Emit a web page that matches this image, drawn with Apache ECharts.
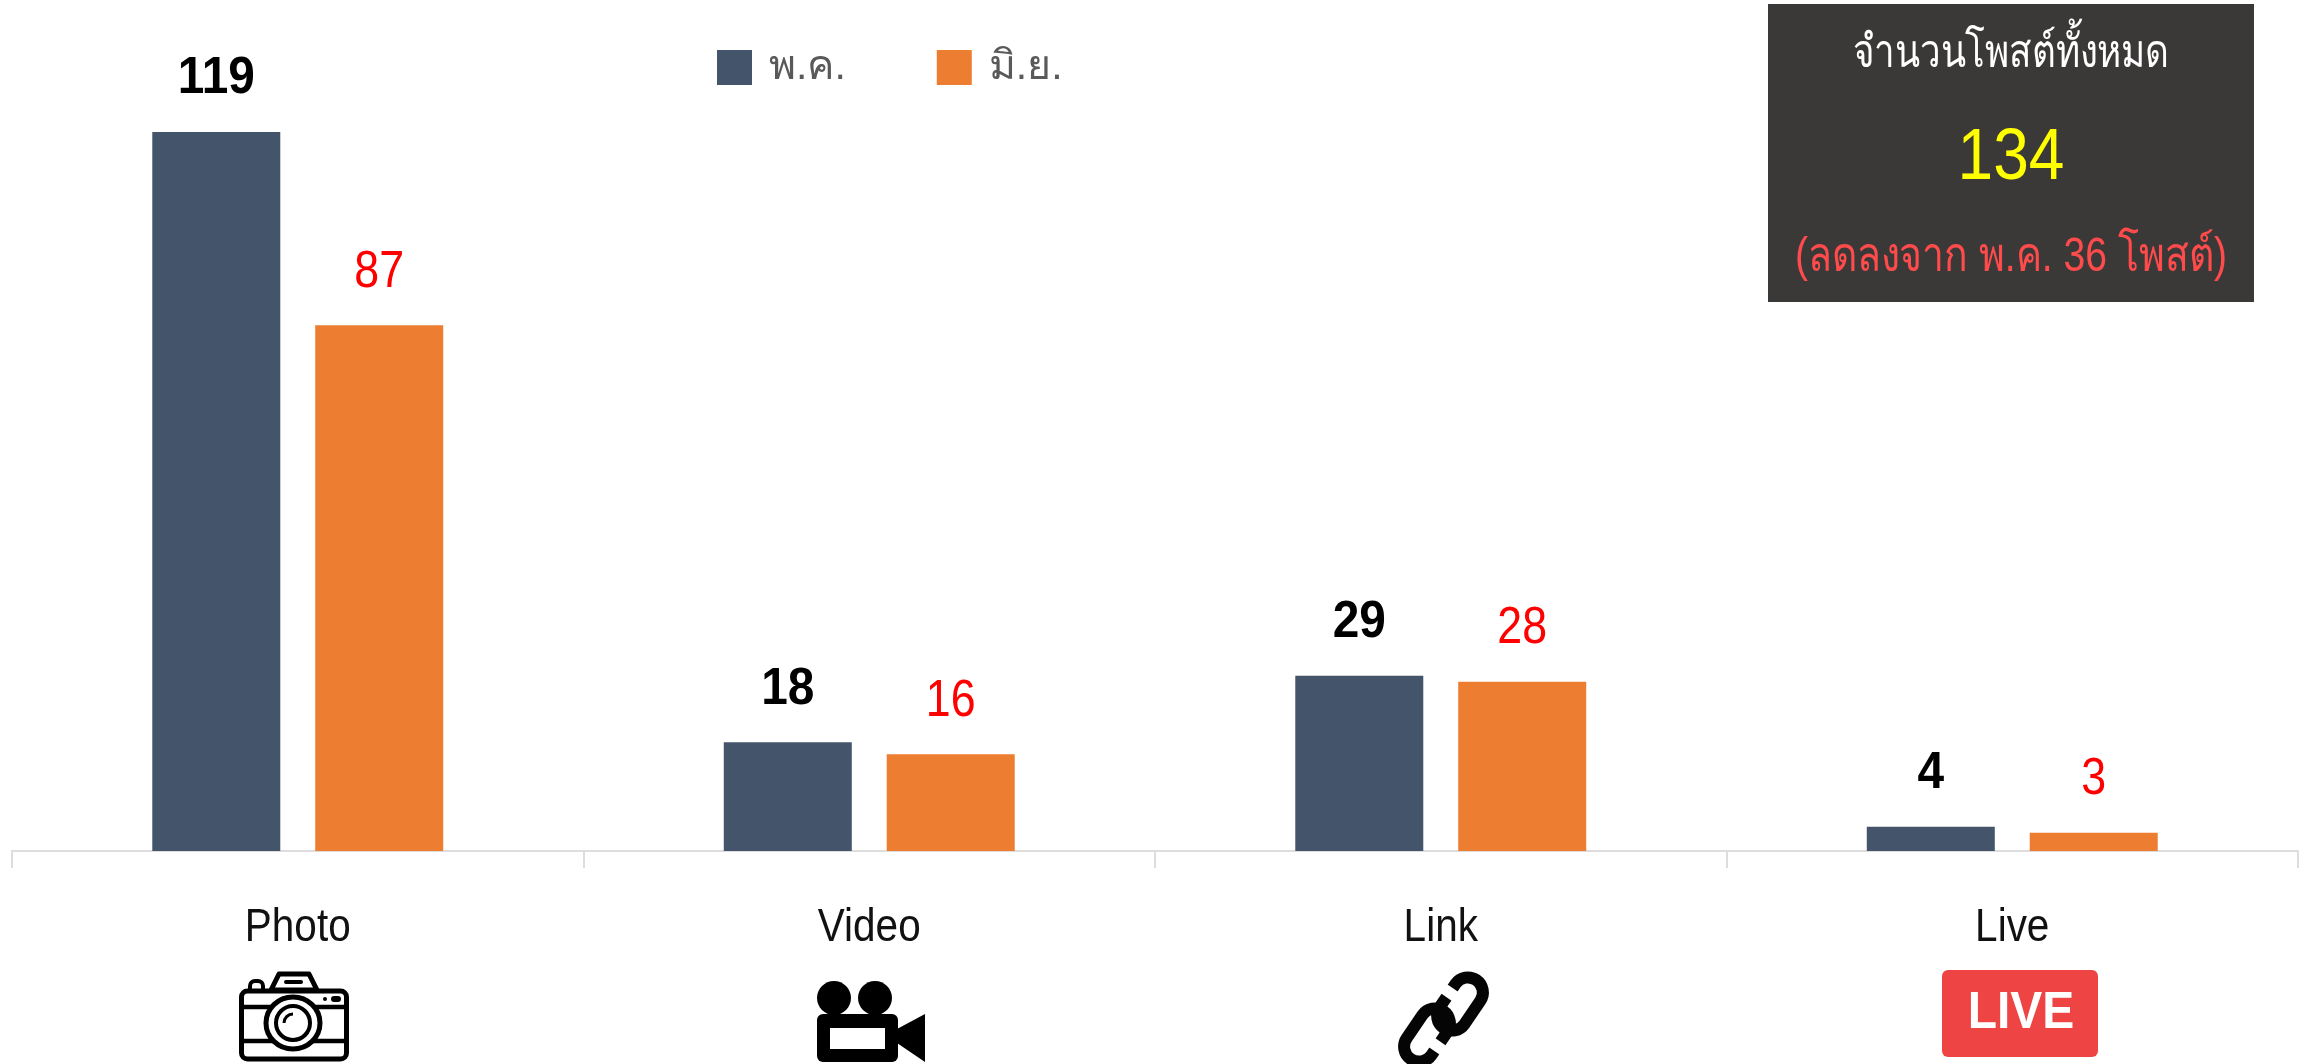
<!DOCTYPE html>
<html>
<head>
<meta charset="utf-8">
<style>html,body{margin:0;padding:0;background:#fff}#c{width:2310px;height:1064px}</style>
<script src="https://cdn.jsdelivr.net/npm/echarts@6/dist/echarts.min.js"></script>
</head>
<body>
<div id="c"></div>
<script>
const categories = ['Photo', 'Video', 'Link', 'Live'];
const seriesMay = [119, 18, 29, 4];
const seriesJun = [87, 16, 28, 3];
const legendNames = ['พ.ค.', 'มิ.ย.'];
const panelTitle = 'จำนวนโพสต์ทั้งหมด';
const panelTotal = '134';
const panelNote = '(ลดลงจาก พ.ค. 36 โพสต์)';

const FONT = '"Liberation Sans","Noto Sans",sans-serif';
const BK = '#000';
const line = (x1, y1, x2, y2, w) => ({type:'line', shape:{x1,y1,x2,y2}, style:{stroke:BK, lineWidth:w, lineCap:'round'}});

const cameraIcon = {type:'group', x:239, y:972, silent:true, children:[
  {type:'polygon', shape:{points:[[32,18],[40,2],[70,2],[78,18]]}, style:{fill:'#fff', stroke:BK, lineWidth:5, lineJoin:'round'}},
  line(47,10,62,10,4),
  {type:'rect', shape:{x:11,y:9,width:13,height:10,r:[5,5,0,0]}, style:{fill:'#fff', stroke:BK, lineWidth:4}},
  {type:'rect', shape:{x:2.5,y:19,width:105,height:68,r:6}, style:{fill:'#fff', stroke:BK, lineWidth:5}},
  line(3,35,107,35,4.5), line(3,69,107,69,4.5),
  {type:'ellipse', shape:{cx:54,cy:51,rx:27,ry:26}, style:{fill:'#fff', stroke:BK, lineWidth:5}},
  {type:'ellipse', shape:{cx:54,cy:51,rx:17,ry:17}, style:{fill:'#fff', stroke:BK, lineWidth:4}},
  {type:'arc', shape:{cx:54,cy:51,r:9,startAngle:Math.PI,endAngle:Math.PI*1.5}, style:{stroke:BK, lineWidth:3, fill:null}},
  {type:'circle', shape:{cx:86,cy:27,r:2}, style:{fill:BK}},
  {type:'rect', shape:{x:92,y:24,width:10,height:6,r:3}, style:{fill:BK}}
]};

const videoIcon = {type:'group', x:817, y:981, silent:true, children:[
  {type:'ellipse', shape:{cx:17,cy:17,rx:17,ry:17}, style:{fill:BK}},
  {type:'ellipse', shape:{cx:58,cy:17,rx:17,ry:17}, style:{fill:BK}},
  {type:'rect', shape:{x:0,y:33,width:81,height:48,r:6}, style:{fill:BK}},
  {type:'rect', shape:{x:13,y:47,width:55,height:21}, style:{fill:'#fff'}},
  {type:'polygon', shape:{points:[[80,48],[108,33],[108,81],[80,62]]}, style:{fill:BK}}
]};

const chainLink = (cx, cy, flip) => ({type:'group', x:cx, y:cy, rotation:flip ? Math.PI - 0.6 : -0.6, children:[
  {type:'rect', shape:{x:-15,y:-29,width:30,height:58,r:15}, style:{fill:'none', stroke:'#050505', lineWidth:12}},
  {type:'rect', shape:{x:-24,y:-9,width:16,height:11}, style:{fill:'#fff'}}
]});
const linkIcon = {type:'group', x:1396, y:974, silent:true, children:[
  chainLink(64, 30, false),
  chainLink(31, 61, true)
]};

const liveIcon = {type:'group', x:1942, y:970, silent:true, children:[
  {type:'rect', shape:{x:0,y:0,width:156,height:87,r:6}, style:{fill:'#EF4444'}},
  {type:'text', x:79, y:44, scaleX:0.94, style:{text:'LIVE', fill:'#fff', font:'bold 51px "Liberation Sans",sans-serif', align:'center', verticalAlign:'middle'}}
]};

const panelText = (y, text, fill, size, sx) => ({type:'text', x:243, y, scaleX:sx,
  style:{text, fill, font:size+'px '+FONT, align:'center', verticalAlign:'middle'}});
const panel = {type:'group', x:1768, y:4, silent:true, children:[
  {type:'rect', shape:{x:0,y:0,width:486,height:298}, style:{fill:'#3B3938'}},
  panelText(50, panelTitle, '#fff', 46, 0.8),
  panelText(155, panelTotal, '#FFFF00', 72, 0.89),
  panelText(254, panelNote, '#FF4B4B', 48, 0.815)
]};

// condensed value labels, placed through the chart's own scales
const valueLabels = (values, side, color, weight, sx) => ({
  type:'custom', coordinateSystem:'cartesian2d', silent:true, z:5,
  data:values.map((v, i) => [i, v]),
  renderItem:(params, api) => {
    const p = api.coord([api.value(0), api.value(1)]);
    const band = api.size([1, 0])[0];
    return {type:'text', x:p[0] + side * band * 0.1426, y:p[1] - 53, scaleX:sx,
      style:{text:String(api.value(1)), fill:color, font:weight + ' 52px "Liberation Sans",sans-serif', align:'center', verticalAlign:'middle'}};
  }
});

// condensed category names under the axis
const categoryLabels = {
  type:'custom', coordinateSystem:'cartesian2d', silent:true, z:5, clip:false,
  data:categories.map((c, i) => [i, 0]),
  renderItem:(params, api) => {
    const i = api.value(0);
    const p = api.coord([i, 0]);
    return {type:'text', x:p[0], y:p[1] + 77, scaleX:0.88,
      style:{text:categories[i], fill:'#111', font:'46px "Liberation Sans",sans-serif', align:'center', verticalAlign:'middle'}};
  }
};

const chart = echarts.init(document.getElementById('c'), null, {renderer:'canvas'});
chart.setOption({
  animation:false,
  backgroundColor:'#fff',
  grid:{left:12, right:12, top:5, bottom:213, containLabel:false},
  legend:{
    show:true, left:717, top:47, padding:0, itemWidth:35, itemHeight:35, itemGap:91, icon:'rect',
    data:legendNames, selectedMode:false,
    textStyle:{color:'#595959', fontSize:41, fontFamily:FONT, padding:[0,0,0,12], lineHeight:35, height:35}
  },
  xAxis:{
    type:'category', data:categories, offset:1,
    axisLine:{lineStyle:{color:'#DDDDDD', width:2}},
    axisTick:{show:true, length:17, lineStyle:{color:'#DDDDDD', width:2}},
    axisLabel:{show:false}
  },
  yAxis:{type:'value', min:0, max:140, show:false, splitLine:{show:false}},
  series:[
    {name:legendNames[0], type:'bar', data:seriesMay, barWidth:128, barGap:'27.3%', itemStyle:{color:'#44546A'}},
    {name:legendNames[1], type:'bar', data:seriesJun, barWidth:128, itemStyle:{color:'#ED7D31'}},
    valueLabels(seriesMay, -1, '#000', 'bold', 0.92),
    valueLabels(seriesJun, 1, '#FF0000', 'normal', 0.86),
    categoryLabels
  ],
  graphic:[panel, cameraIcon, videoIcon, linkIcon, liveIcon]
});
</script>
</body>
</html>
